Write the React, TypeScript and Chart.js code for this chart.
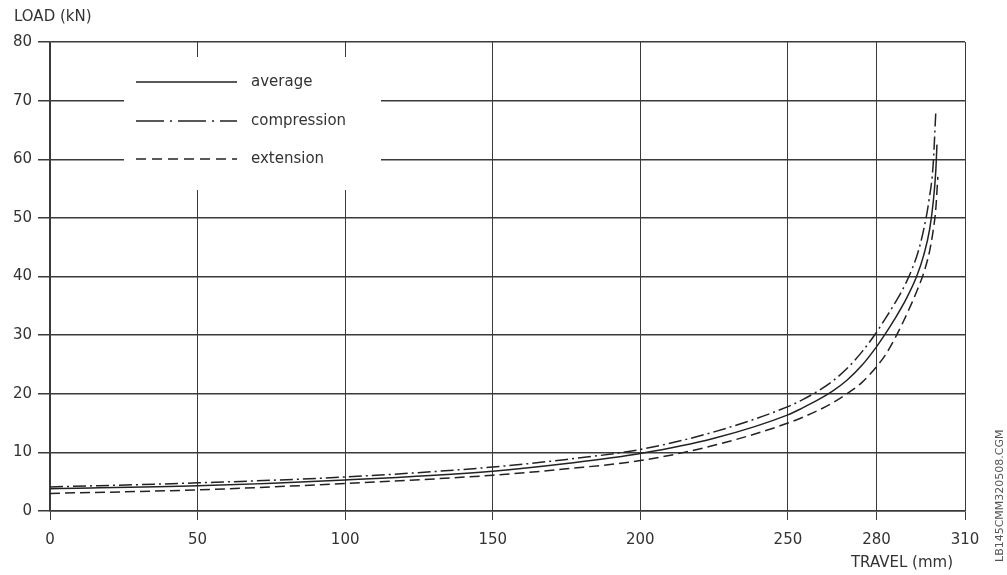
import React, { useEffect, useRef } from 'react';
import { Chart, registerables } from 'chart.js';

Chart.register(...registerables);

// ---- data ----
const xTickValues = [0, 50, 100, 150, 200, 250, 280, 310];
const yTickMax = 80;
const yTickStep = 10;

const seriesLabels = ['average', 'compression', 'extension'];

const averageX = [0, 50, 100, 150, 175, 200, 225, 250, 255, 260, 265, 270, 275, 280, 283, 286, 290, 293.6, 296, 298, 299.3, 300.1, 300.5];
const averageY = [3.8, 4.3, 5.3, 6.8, 8.1, 9.8, 12.4, 16.4, 17.6, 18.9, 20.4, 22.3, 24.8, 28.0, 30.2, 32.6, 36.1, 40, 43.6, 48, 53, 58, 62.5];

const compressionX = [0, 50, 100, 150, 175, 200, 225, 250, 255, 260, 265, 270, 275, 279.2, 283, 287, 290, 292, 294, 296, 297.8, 299.2, 300.1];
const compressionY = [4.1, 4.8, 5.8, 7.5, 8.8, 10.5, 13.5, 17.8, 19.0, 20.4, 22.1, 24.3, 27.1, 29.9, 32.8, 36.1, 38.9, 41.2, 44.0, 48, 53, 59, 68];

const extensionX = [0, 50, 100, 150, 175, 200, 225, 250, 260, 265, 270, 275, 280, 283, 286.2, 289, 292, 294, 296, 298, 299.2, 300.1, 300.8];
const extensionY = [3.0, 3.6, 4.7, 6.1, 7.2, 8.6, 11.2, 15.0, 17.1, 18.4, 20.0, 21.9, 24.6, 26.6, 29.4, 32.2, 35.5, 37.9, 40.6, 44.3, 47.8, 51.5, 57];

const yAxisTitle = 'LOAD (kN)';
const xAxisTitle = 'TRAVEL (mm)';
const sideNote = 'LB145CMM320508.CGM';

export default function App() {
  const ref = useRef<HTMLCanvasElement>(null);

  useEffect(() => {
    if (!ref.current) return;
    const FONT = "'DejaVu Sans', 'Liberation Sans', sans-serif";
    const TEXT = '#333333';
    const LINE = '#222222';
    const GRID = '#3a3a3a';
    const toPts = (xs: number[], ys: number[]) => xs.map((x, i) => ({ x, y: ys[i] }));

    const styles = [
      { dash: [] as number[], legendDash: [] as number[] },
      { dash: [13, 4, 2, 4], legendDash: [28, 6, 2, 6] },
      { dash: [10, 5], legendDash: [10, 6] },
    ];

    const decorPlugin = {
      id: 'decor',
      afterDraw(chart: any) {
        const ctx = chart.ctx as CanvasRenderingContext2D;
        ctx.save();
        // legend box (white, interrupts the grid)
        ctx.fillStyle = '#ffffff';
        ctx.fillRect(124, 57, 257, 133);
        const rows = [82, 121, 159];
        chart.data.datasets.forEach((ds: any, i: number) => {
          ctx.beginPath();
          ctx.setLineDash(styles[i].legendDash);
          ctx.strokeStyle = ds.borderColor;
          ctx.lineWidth = ds.borderWidth;
          ctx.moveTo(136, rows[i]);
          ctx.lineTo(237, rows[i]);
          ctx.stroke();
          ctx.setLineDash([]);
          ctx.fillStyle = TEXT;
          ctx.font = `15px ${FONT}`;
          ctx.textAlign = 'left';
          ctx.textBaseline = 'middle';
          ctx.fillText(ds.label, 251, rows[i]);
        });
        // axis titles
        ctx.fillStyle = TEXT;
        ctx.font = `15px ${FONT}`;
        ctx.textAlign = 'left';
        ctx.textBaseline = 'middle';
        ctx.fillText(yAxisTitle, 14, 17);
        ctx.textAlign = 'right';
        ctx.fillText(xAxisTitle, 953, 563);
        // side note, rotated
        ctx.translate(1000, 562);
        ctx.rotate(-Math.PI / 2);
        ctx.font = `11px ${FONT}`;
        ctx.fillStyle = '#555555';
        ctx.textAlign = 'left';
        ctx.textBaseline = 'middle';
        ctx.fillText(sideNote, 0, 0);
        ctx.restore();
      },
    };

    const chart = new Chart(ref.current, {
      type: 'line',
      data: {
        datasets: [
          { label: seriesLabels[0], data: toPts(averageX, averageY) },
          { label: seriesLabels[1], data: toPts(compressionX, compressionY) },
          { label: seriesLabels[2], data: toPts(extensionX, extensionY) },
        ].map((d, i) => ({
          ...d,
          borderColor: LINE,
          borderWidth: 1.5,
          borderDash: styles[i].dash,
          pointRadius: 0,
          fill: false,
          cubicInterpolationMode: 'monotone' as const,
        })),
      },
      options: {
        animation: false,
        responsive: false,
        devicePixelRatio: 1,
        layout: { padding: { top: 42, right: 42, left: 0, bottom: 0 } },
        plugins: {
          legend: { display: false },
          title: { display: false },
          tooltip: { enabled: false },
        },
        scales: {
          x: {
            type: 'linear',
            min: 0,
            max: 310,
            afterBuildTicks: (s: any) => {
              s.ticks = xTickValues.map((v) => ({ value: v }));
            },
            afterFit: (s: any) => {
              s.height = 64;
            },
            ticks: {
              autoSkip: false,
              maxRotation: 0,
              padding: 11,
              color: TEXT,
              font: { family: FONT, size: 15 },
              callback: (v: any) => String(v),
            },
            grid: { color: GRID, lineWidth: 1, tickLength: 9, drawTicks: true },
            border: { display: true, color: GRID, width: 1.5 },
          },
          y: {
            type: 'linear',
            min: 0,
            max: yTickMax,
            afterFit: (s: any) => {
              s.width = 50;
            },
            ticks: {
              stepSize: yTickStep,
              padding: 6,
              color: TEXT,
              font: { family: FONT, size: 15 },
            },
            grid: { color: GRID, lineWidth: 1.5, tickLength: 12, drawTicks: true },
            border: { display: true, color: GRID, width: 1.5 },
          },
        },
      },
      plugins: [decorPlugin],
    } as any);

    return () => chart.destroy();
  }, []);

  return (
    <div style={{ position: 'fixed', left: 0, top: 0, width: 1007, height: 575, background: '#ffffff' }}>
      <canvas ref={ref} width={1007} height={575} style={{ display: 'block' }} />
    </div>
  );
}
